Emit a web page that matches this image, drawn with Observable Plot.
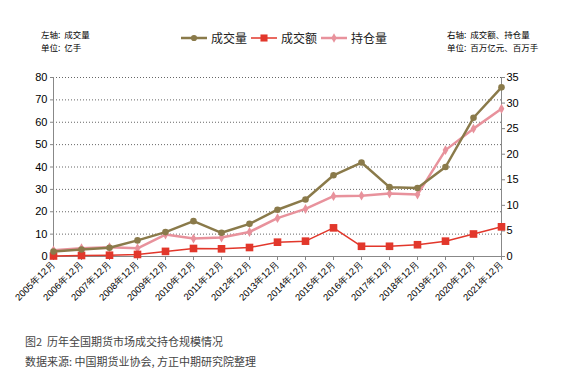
<!DOCTYPE html>
<html>
<head>
<meta charset="utf-8">
<script src="https://cdn.jsdelivr.net/npm/d3@7"></script>
<script src="https://cdn.jsdelivr.net/npm/@observablehq/plot@0.6"></script>
<style>
  body { margin: 0; background: #fff; }
  #wrap { position: relative; width: 587px; height: 390px; overflow: hidden; background:#fff; font-family: "Noto Sans CJK SC", "Liberation Sans", sans-serif; }
  #chart { position: absolute; left: 0; top: 0; }
  .note { position: absolute; font-size: 8.5px; line-height: 9px; color: #000; white-space: nowrap; }
  .cap { position: absolute; left: 25px; font-size: 11px; color: #444; }
  #legend { position: absolute; left: 181px; top: 29px; font-size: 12px; color: #222; display: flex; align-items: center; }
  #legend span { display: inline-flex; align-items: center; margin-right: 4px; }
  #legend svg { margin-right: 4px; }
</style>
</head>
<body>
<div id="wrap">
  <div id="chart"></div>
  <div class="note" style="left:41px; top:30px;">左轴:&nbsp; 成交量</div>
  <div class="note" style="left:41px; top:42.5px;">单位:&nbsp; 亿手</div>
  <div class="note" style="left:447px; top:30px;">右轴:&nbsp; 成交额、持仓量</div>
  <div class="note" style="left:447px; top:42.5px;">单位:&nbsp; 百万亿元、百万手</div>
  <div id="legend"></div>
  <div class="cap" style="top:333px;">图2&nbsp; 历年全国期货市场成交持仓规模情况</div>
  <div class="cap" style="top:353px;">数据来源: 中国期货业协会, 方正中期研究院整理</div>
</div>
<script>
const categories = ["2005年12月","2006年12月","2007年12月","2008年12月","2009年12月","2010年12月","2011年12月","2012年12月","2013年12月","2014年12月","2015年12月","2016年12月","2017年12月","2018年12月","2019年12月","2020年12月","2021年12月"];
const volume = [2.2, 3.1, 3.9, 7.2, 10.9, 15.8, 10.6, 14.6, 20.9, 25.5, 36.3, 42.0, 31.0, 30.6, 40.0, 62.0, 75.6];
const turnover = [0.1, 0.2, 0.25, 0.4, 1.0, 1.57, 1.5, 1.76, 2.8, 3.0, 5.6, 2.0, 2.0, 2.3, 3.0, 4.4, 5.8];
const openInterest = [1.2, 1.6, 1.8, 1.6, 4.3, 3.5, 3.7, 4.8, 7.5, 9.3, 11.8, 11.9, 12.3, 12.1, 20.8, 25.0, 28.9];
const leftTicks = [0, 10, 20, 30, 40, 50, 60, 70, 80];
const rightTicks = [0, 5, 10, 15, 20, 25, 30, 35];
const seriesNames = ["成交量", "成交额", "持仓量"];
const colors = {"成交量": "#8a7a4a", "成交额": "#e2372b", "持仓量": "#e8929c"};

const k = 80 / 35; // right axis -> left axis scale
const volData = categories.map((c, i) => ({c, v: volume[i]}));
const turnData = categories.map((c, i) => ({c, v: turnover[i] * k}));
const oiData = categories.map((c, i) => ({c, v: openInterest[i] * k}));

const chart = Plot.plot({
  width: 587,
  height: 320,
  marginLeft: 53,
  marginRight: 86,
  marginTop: 77,
  marginBottom: 64,
  style: {fontFamily: "Liberation Sans, Arial, sans-serif", color: "#000", background: "transparent"},
  x: {type: "point", domain: categories, padding: 0},
  y: {domain: [0, 80]},
  marks: [
    Plot.ruleY(leftTicks.filter(d => d > 0), {stroke: "#666", strokeDasharray: "1,2", strokeWidth: 1}),
    Plot.ruleX([categories[0]], {stroke: "#888", strokeWidth: 1}),
    Plot.ruleX([categories[categories.length - 1]], {stroke: "#888", strokeWidth: 1}),
    Plot.ruleY([0], {stroke: "#888", strokeWidth: 1}),
    Plot.axisY({ticks: leftTicks, tickSize: 3, tickPadding: 3, fontSize: 11, label: null, stroke: "#888"}),
    Plot.axisY({anchor: "right", ticks: rightTicks.map(d => d * k), tickFormat: d => String(Math.round(d / k)), tickSize: 3, tickPadding: 2, fontSize: 11, label: null, stroke: "#888"}),
    Plot.axisX({tickRotate: -45, tickSize: 4, tickPadding: 2, fontSize: 9.5, label: null, stroke: "#888", textAnchor: "end"}),
    Plot.line(oiData, {x: "c", y: "v", stroke: colors["持仓量"], strokeWidth: 2.5}),
    Plot.dot(oiData, {x: "c", y: "v", fill: colors["持仓量"], symbol: "diamond", r: 3}),
    Plot.line(turnData, {x: "c", y: "v", stroke: colors["成交额"], strokeWidth: 1.5}),
    Plot.dot(turnData, {x: "c", y: "v", fill: colors["成交额"], symbol: "square", r: 4.3}),
    Plot.line(volData, {x: "c", y: "v", stroke: colors["成交量"], strokeWidth: 2.5}),
    Plot.dot(volData, {x: "c", y: "v", fill: colors["成交量"], symbol: "circle", r: 3.3})
  ]
});
document.getElementById("chart").appendChild(chart);

// legend
const legend = d3.select("#legend");
const shapes = {"成交量": "circle", "成交额": "square", "持仓量": "diamond"};
seriesNames.forEach(name => {
  const s = legend.append("span");
  const sv = s.append("svg").attr("width", 26).attr("height", 12);
  sv.append("line").attr("x1", 0).attr("x2", 26).attr("y1", 6).attr("y2", 6)
    .attr("stroke", colors[name]).attr("stroke-width", name === "成交额" ? 1.5 : 2.5);
  const sym = {circle: d3.symbolCircle, square: d3.symbolSquare, diamond: d3.symbolDiamond}[shapes[name]];
  const size = {circle: 30, square: 50, diamond: 25}[shapes[name]];
  sv.append("path").attr("d", d3.symbol(sym, size)()).attr("transform", "translate(13,6)").attr("fill", colors[name]);
  s.append("text").text(name);
});
</script>
</body>
</html>
